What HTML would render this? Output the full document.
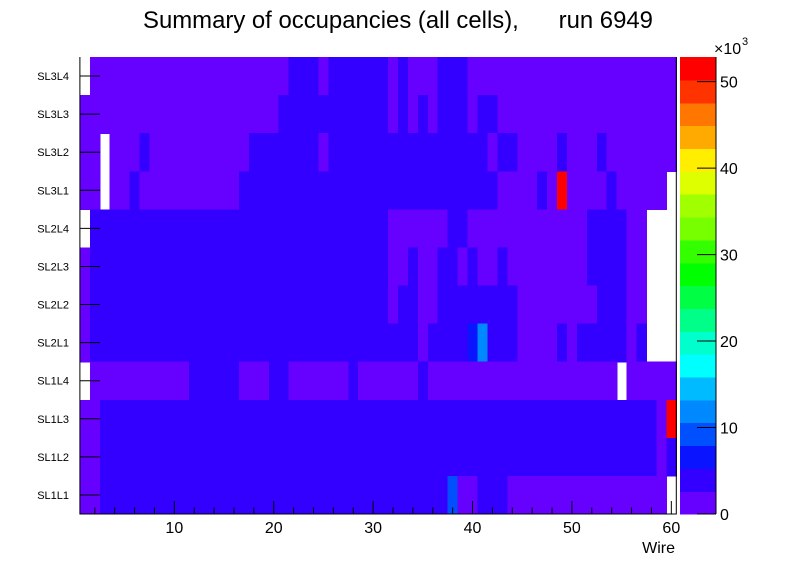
<!DOCTYPE html>
<html><head><meta charset="utf-8"><style>
html,body{margin:0;padding:0;background:#fff;}
svg{display:block;font-family:"Liberation Sans",sans-serif;}
</style></head><body>
<svg id="chart" width="796" height="572" viewBox="0 0 796 572" xmlns="http://www.w3.org/2000/svg">
<rect x="0" y="0" width="796" height="572" fill="#fff"/>
<text x="398" y="28" text-anchor="middle" font-size="23.9" fill="#000" xml:space="preserve">Summary of occupancies (all cells),      run 6949</text>
<g id="cells"></g>
<g id="axes"></g>
<g id="palette"></g>
</svg>
<script>
const P = 1.5, B = 4;
// values in thousands, wires 1..60
const layers = ["SL3L4","SL3L3","SL3L2","SL3L1","SL2L4","SL2L3","SL2L2","SL2L1","SL1L4","SL1L3","SL1L2","SL1L1"];
const rowSL3L4 = [0,P,P,P,P,P,P,P,P,P, P,P,P,P,P,P,P,P,P,P, P,B,B,B,P,B,B,B,B,B, B,P,B,P,P,P,B,B,B,P, P,P,P,P,P,P,P,P,P,P, P,P,P,P,P,P,P,P,P,P];
const rowSL3L3 = [P,P,P,P,P,P,P,P,P,P, P,P,P,P,P,P,P,P,P,P, B,B,B,B,B,B,B,B,B,B, B,P,B,P,B,P,B,B,B,P, B,B,P,P,P,P,P,P,P,P, P,P,P,P,P,P,P,P,P,P];
const rowSL3L2 = [P,P,0,P,P,P,B,P,P,P, P,P,P,P,P,P,P,B,B,B, B,B,B,B,P,B,B,B,B,B, B,B,B,B,B,B,B,B,B,B, B,P,B,B,P,P,P,P,B,P, P,P,B,P,P,P,P,P,P,P];
const rowSL3L1 = [P,P,0,P,P,B,P,P,P,P, P,P,P,P,P,P,B,B,B,B, B,B,B,B,B,B,B,B,B,B, B,B,B,B,B,B,B,B,B,B, B,B,P,P,P,P,B,P,52,P, P,P,P,B,P,P,P,P,P,0];
const rowSL2L4 = [0,B,B,B,B,B,B,B,B,B, B,B,B,B,B,B,B,B,B,B, B,B,B,B,B,B,B,B,B,B, B,P,P,P,P,P,P,B,B,P, P,P,P,P,P,P,P,P,P,P, P,B,B,B,B,P,P,0,0,0];
const rowSL2L3 = [P,B,B,B,B,B,B,B,B,B, B,B,B,B,B,B,B,B,B,B, B,B,B,B,B,B,B,B,B,B, B,P,P,B,P,P,B,B,P,B, P,P,B,P,P,P,P,P,P,P, P,B,B,B,B,P,P,0,0,0];
const rowSL2L2 = [P,B,B,B,B,B,B,B,B,B, B,B,B,B,B,B,B,B,B,B, B,B,B,B,B,B,B,B,B,B, B,P,B,B,P,P,B,B,B,B, B,B,B,B,P,P,P,P,P,P, P,P,B,B,B,P,P,0,0,0];
const rowSL2L1 = [P,B,B,B,B,B,B,B,B,B, B,B,B,B,B,B,B,B,B,B, B,B,B,B,B,B,B,B,B,B, B,B,B,B,P,B,B,B,B,6.5, 12,B,B,B,P,P,P,P,B,P, B,B,B,B,B,P,B,0,0,0];
const rowSL1L4 = [0,P,P,P,P,P,P,P,P,P, P,B,B,B,B,B,P,P,P,B, B,P,P,P,P,P,P,B,P,P, P,P,P,P,B,P,P,P,P,P, P,P,P,P,P,P,P,P,P,P, P,P,P,P,0,P,P,P,P,P];
const rowSL1L3 = [P,P,B,B,B,B,B,B,B,B, B,B,B,B,B,B,B,B,B,B, B,B,B,B,B,B,B,B,B,B, B,B,B,B,B,B,B,B,B,B, B,B,B,B,B,B,B,B,B,B, B,B,B,B,B,B,B,B,P,52];
const rowSL1L2 = [P,P,B,B,B,B,B,B,B,B, B,B,B,B,B,B,B,B,B,B, B,B,B,B,B,B,B,B,B,B, B,B,B,B,B,B,B,B,B,B, B,B,B,B,B,B,B,B,B,B, B,B,B,B,B,B,B,B,P,B];
const rowSL1L1 = [P,P,B,B,B,B,B,B,B,B, B,B,B,B,B,B,B,B,B,B, B,B,B,B,B,B,B,B,B,B, B,B,B,B,B,B,B,9,P,P, B,B,B,P,P,P,P,P,P,P, P,P,P,P,P,P,P,P,P,0];
const values = [rowSL3L4,rowSL3L3,rowSL3L2,rowSL3L1,rowSL2L4,rowSL2L3,rowSL2L2,rowSL2L1,rowSL1L4,rowSL1L3,rowSL1L2,rowSL1L1];
const xTicks = [10,20,30,40,50,60];
const zTicks = [0,10,20,30,40,50];
const zMax = 52.85;
const palette = ["#6600ff","#3300ff","#0a14ff","#0050ff","#0088ff","#00bbff","#00ffff","#00ffcc","#00ff88","#00ff44","#00ff00","#33ff00","#77ff00","#a0ff00","#ddff00","#ffee00","#ffaa00","#ff7700","#ff3300","#ff0000"];

const NS = "http://www.w3.org/2000/svg";
const L = 79.9, R = 676.3, T = 57, Bt = 514;
const xs = v => L + (v - 0.5) * (R - L) / 60;
const ys = i => T + i * (Bt - T) / layers.length;
const zs = z => Bt - z / zMax * (Bt - T);
function mk(tag, attrs, parent) {
  const e = document.createElementNS(NS, tag);
  for (const k in attrs) e.setAttribute(k, attrs[k]);
  parent.appendChild(e);
  return e;
}
const cells = document.getElementById("cells");
values.forEach((row, r) => {
  row.forEach((v, c) => {
    if (v <= 0) return;
    const band = Math.min(palette.length - 1, Math.floor(v / zMax * palette.length));
    const x0 = xs(c + 0.5), x1 = xs(c + 1.5), y0 = ys(r), y1 = ys(r + 1);
    const rc = mk("rect", {x: x0, y: y0, width: x1 - x0 + 0.6, height: y1 - y0 + 0.6, fill: palette[band], "shape-rendering": "crispEdges"}, cells);
    
    
  });
});
const ax = document.getElementById("axes");
mk("path", {d: `M${L} ${T} V${Bt} H${R} V${T}`, fill: "none", stroke: "#000", "stroke-width": 1}, ax);
for (let v = 2; v <= 60; v += 2) {
  const major = v % 10 === 0;
  const t = mk("line", {x1: xs(v), x2: xs(v), y1: Bt, y2: Bt - (major ? 13 : 6.5), stroke: "#000"}, ax);
  
  
}
xTicks.forEach(v => {
  const t = mk("text", {x: xs(v), y: 533, "text-anchor": "middle", "font-size": 16}, ax);
  t.textContent = v;
  
  
});
const wt = mk("text", {x: 675, y: 553, "text-anchor": "end", "font-size": 16}, ax);
wt.textContent = "Wire";


layers.forEach((name, i) => {
  const yc = (ys(i) + ys(i + 1)) / 2;
  const t = mk("line", {x1: L, x2: L + 20, y1: yc, y2: yc, stroke: "#000"}, ax);
  
  
  const lb = mk("text", {x: 69, y: yc + 4, "text-anchor": "end", "font-size": 11}, ax);
  lb.textContent = name;
  
  
});
const pal = document.getElementById("palette");
palette.forEach((col, k) => {
  const z0 = k * zMax / palette.length, z1 = (k + 1) * zMax / palette.length;
  const r = mk("rect", {x: 680, y: zs(z1), width: 36, height: zs(z0) - zs(z1) + 0.6, fill: col, "shape-rendering": "crispEdges"}, pal);
  
  
});
mk("line", {x1: 716, x2: 716, y1: T, y2: Bt, stroke: "#000"}, pal);
zTicks.forEach(z => {
  const t = mk("line", {x1: 697, x2: 716, y1: zs(z), y2: zs(z), stroke: "#000"}, pal);
  
  
  const lb = mk("text", {x: 720, y: zs(z) + 6, "font-size": 16}, pal);
  lb.textContent = z;
  
  
});
const ex = mk("text", {x: 714, y: 54, "font-size": 16}, pal);
ex.textContent = "×10";


const ex3 = mk("text", {x: 742, y: 45, "font-size": 11}, pal);
ex3.textContent = "3";


</script>
</body></html>
